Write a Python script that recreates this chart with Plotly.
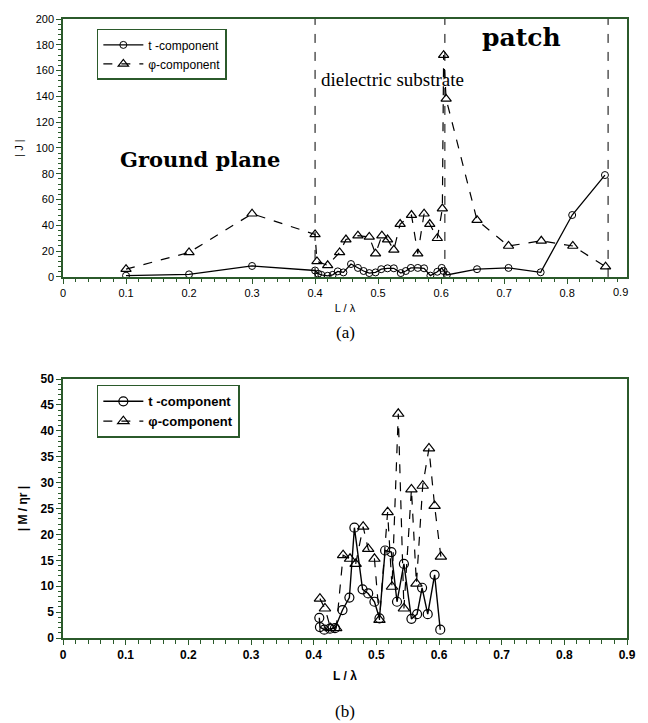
import plotly.graph_objects as go

# ---- data: panel (a) |J| ----
t_top_x = [0.1, 0.2, 0.3, 0.4, 0.405, 0.41, 0.42, 0.428, 0.436, 0.445, 0.457, 0.468, 0.477,
           0.486, 0.496, 0.505, 0.515, 0.525, 0.536, 0.544, 0.552, 0.563, 0.573, 0.583,
           0.594, 0.601, 0.604, 0.609, 0.657, 0.707, 0.758, 0.808, 0.860]
t_top_y = [1, 2, 8.5, 5, 2.5, 1.6, 0.9, 1.6, 4.3, 3.5, 10, 7, 4.6,
           3, 3.5, 6, 6.7, 6.7, 3, 4.6, 7, 7, 6.7, 1,
           4, 7, 4.6, 1.5, 6, 7, 3.6, 48, 79]
p_top_x = [0.1, 0.2, 0.3, 0.4, 0.403, 0.42, 0.439, 0.449, 0.468, 0.486, 0.496, 0.506, 0.515,
           0.525, 0.535, 0.553, 0.563, 0.573, 0.582, 0.594, 0.602, 0.604, 0.608, 0.657,
           0.707, 0.759, 0.809, 0.861]
p_top_y = [6, 19, 49, 33, 12, 9, 19, 29, 32, 31, 18, 32, 29,
           21, 41, 48, 18, 49, 41, 30, 53, 172, 138, 44,
           24, 28, 24, 8]
region_bounds = [0.4, 0.606, 0.865]
x_tick_vals = [0, 0.1, 0.2, 0.3, 0.4, 0.5, 0.6, 0.7, 0.8, 0.9]
x_tick_text = ["0", "0.1", "0.2", "0.3", "0.4", "0.5", "0.6", "0.7", "0.8", "0.9"]

# ---- data: panel (b) |M/eta r| ----
t_bot_x = [0.409, 0.410, 0.417, 0.426, 0.434, 0.446, 0.457, 0.465, 0.478, 0.487, 0.497,
           0.505, 0.514, 0.524, 0.533, 0.544, 0.556, 0.565, 0.573, 0.582, 0.593, 0.602]
t_bot_y = [3.9, 2.1, 1.6, 1.8, 1.9, 5.4, 7.8, 21.3, 9.4, 8.6, 7.0,
           3.8, 16.9, 16.6, 7.0, 14.3, 3.7, 4.6, 9.7, 4.6, 12.2, 1.6]
p_bot_x = [0.410, 0.418, 0.427, 0.436, 0.447, 0.458, 0.467, 0.479, 0.487, 0.497, 0.505,
           0.518, 0.525, 0.535, 0.544, 0.556, 0.564, 0.574, 0.584, 0.593, 0.603]
p_bot_y = [7.6, 5.7, 1.9, 1.9, 16.0, 15.3, 14.3, 21.5, 17.2, 15.3, 3.5,
           24.3, 9.9, 43.3, 5.7, 28.7, 10.5, 29.4, 36.6, 25.5, 15.7]

GREEN = "#2b5a2b"
TOP_XMAX = 0.895
TOP_DOMAIN = [0.5833, 1.0]
fig = go.Figure()

fig.add_trace(go.Scatter(x=t_top_x, y=t_top_y, mode="lines+markers", name="t -component",
                         line=dict(color="black", width=1.3),
                         marker=dict(symbol="circle-open", size=7, color="black", line=dict(width=1)),
                         xaxis="x", yaxis="y", legend="legend"))
fig.add_trace(go.Scatter(x=p_top_x, y=p_top_y, mode="lines+markers", name="φ-component",
                         line=dict(color="black", width=1.2, dash="dash"),
                         marker=dict(symbol="triangle-up-open", size=9, color="black", line=dict(width=1.2)),
                         xaxis="x", yaxis="y", legend="legend"))
fig.add_trace(go.Scatter(x=t_bot_x, y=t_bot_y, mode="lines+markers", name="<b>t -component</b>",
                         line=dict(color="black", width=1.4),
                         marker=dict(symbol="circle-open", size=9, color="black", line=dict(width=1.2)),
                         xaxis="x2", yaxis="y2", legend="legend2"))
fig.add_trace(go.Scatter(x=p_bot_x, y=p_bot_y, mode="lines+markers", name="<b>φ-component</b>",
                         line=dict(color="black", width=1.2, dash="dash"),
                         marker=dict(symbol="triangle-up-open", size=10, color="black", line=dict(width=1.2)),
                         xaxis="x2", yaxis="y2", legend="legend2"))

for xb in region_bounds:
    fig.add_shape(type="line", x0=xb, x1=xb, y0=0, y1=1, xref="x", yref="y domain",
                  line=dict(color="black", width=1, dash="dash"))

axis_common = dict(showline=True, linecolor=GREEN, linewidth=1.5, mirror=True,
                   ticks="outside", tickcolor=GREEN, ticklen=5, showgrid=False, zeroline=False)

fig.update_layout(
    width=648, height=723,
    margin=dict(l=63, r=18, t=14, b=85),
    paper_bgcolor="white", plot_bgcolor="white",
    showlegend=True,
    xaxis=dict(domain=[0, 1], anchor="y", range=[0, TOP_XMAX], tickvals=x_tick_vals,
               ticktext=x_tick_text, **axis_common,
               minor=dict(dtick=0.02, ticks="outside", ticklen=3, tickcolor=GREEN),
               tickfont=dict(family="Liberation Sans", size=11, color="black"),
               title=dict(text="L / λ", font=dict(family="Liberation Sans", size=11, color="black"), standoff=6)),
    yaxis=dict(domain=TOP_DOMAIN, anchor="x", range=[0, 200], dtick=20, **axis_common,
               minor=dict(dtick=4, ticks="outside", ticklen=3, tickcolor=GREEN),
               tickfont=dict(family="Liberation Sans", size=11, color="black"),
               title=dict(text="| J |", font=dict(family="Liberation Sans", size=11, color="black"), standoff=10)),
    xaxis2=dict(domain=[0, 1], anchor="y2", range=[0, 0.9], dtick=0.1, **axis_common,
                minor=dict(dtick=0.02, ticks="outside", ticklen=4, tickcolor=GREEN),
                tickfont=dict(family="Liberation Sans", size=12, color="black", weight="bold"),
                title=dict(text="<b>L / λ</b>", font=dict(family="Liberation Sans", size=12, color="black"), standoff=10)),
    yaxis2=dict(domain=[0, 0.4183], anchor="x2", range=[0, 50], dtick=5, **axis_common,
                minor=dict(dtick=1, ticks="outside", ticklen=3, tickcolor=GREEN),
                tickfont=dict(family="Liberation Sans", size=12, color="black", weight="bold"),
                title=dict(text="<b>| M / ηr |</b>", font=dict(family="Liberation Sans", size=12, color="black"), standoff=10)),
    legend=dict(x=0.06, y=0.984, xanchor="left", yanchor="top", bgcolor="white",
                bordercolor=GREEN, borderwidth=1.5, tracegroupgap=0, itemwidth=40,
                font=dict(family="Liberation Sans", size=12, color="black")),
    legend2=dict(x=0.06, y=0.409, xanchor="left", yanchor="top", bgcolor="white",
                 bordercolor=GREEN, borderwidth=1.5, tracegroupgap=0, itemwidth=40,
                 font=dict(family="Liberation Sans", size=13, color="black")),
)

# the 0.9 tick label sits just past the frame of panel (a)
fig.add_annotation(x=x_tick_vals[-1] / TOP_XMAX, y=TOP_DOMAIN[0], xref="paper", yref="paper",
                   yanchor="top", yshift=-7, text=x_tick_text[-1],
                   showarrow=False, font=dict(family="Liberation Sans", size=11, color="black"))

fig.add_annotation(x=0.217, y=91, xref="x", yref="y", text="<b>Ground plane</b>", showarrow=False,
                   font=dict(family="DejaVu Serif", size=21, color="black"))
fig.add_annotation(x=0.523, y=153, xref="x", yref="y", text="dielectric substrate", showarrow=False,
                   font=dict(family="Liberation Serif", size=19, color="black"))
fig.add_annotation(x=0.727, y=186, xref="x", yref="y", text="<b>patch</b>", showarrow=False,
                   font=dict(family="DejaVu Serif", size=25, color="black"))

fig.add_annotation(x=0.5, y=0.4936, xref="paper", yref="paper",
                   text="(a)", showarrow=False, font=dict(family="Liberation Serif", size=17, color="black"),
                   yanchor="middle")
fig.add_annotation(x=0.5, y=-0.1186, xref="paper", yref="paper",
                   text="(b)", showarrow=False, font=dict(family="Liberation Serif", size=17, color="black"),
                   yanchor="middle")

fig.write_html("out.html")
